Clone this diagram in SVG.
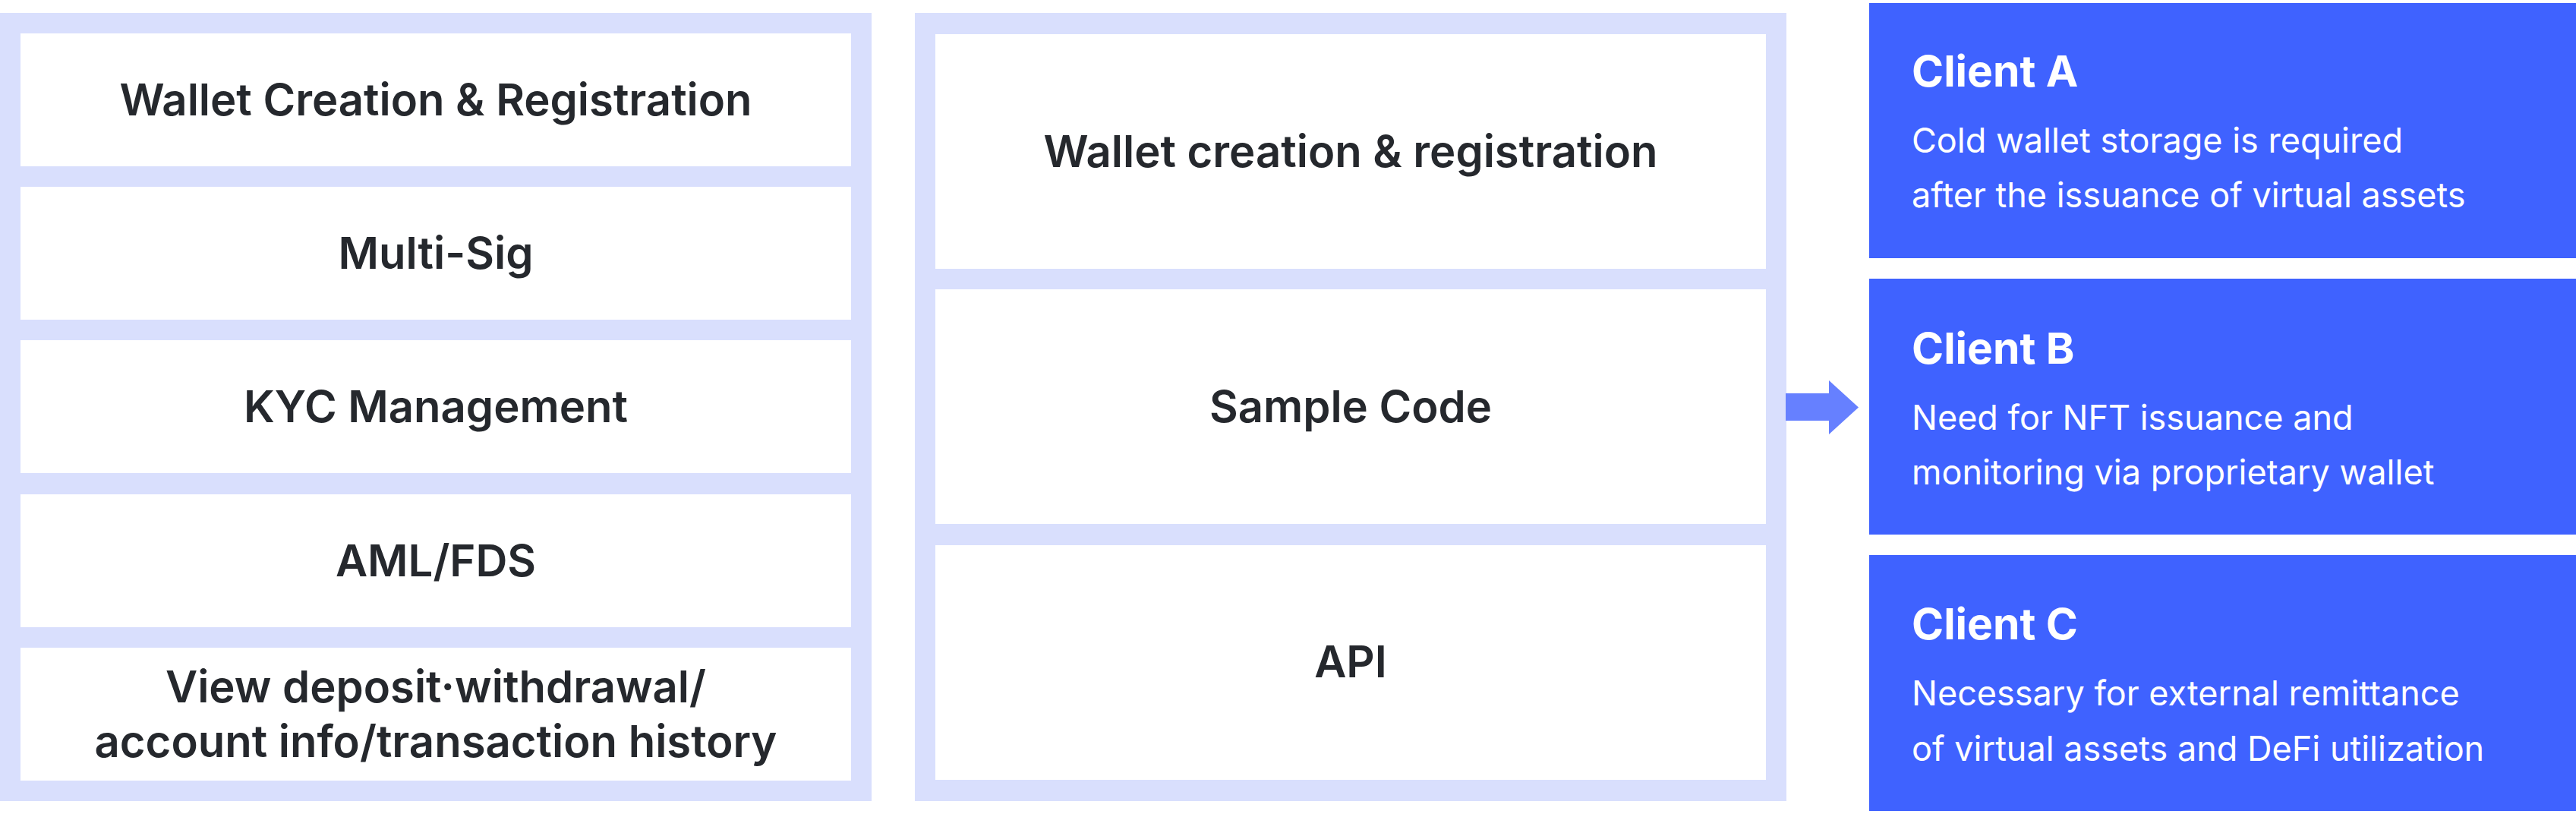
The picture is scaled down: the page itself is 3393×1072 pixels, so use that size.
<svg xmlns="http://www.w3.org/2000/svg" width="3393" height="1072" viewBox="0 0 3393 1072">
  <style>
    .panel { fill: #D9DFFD; }
    .cell { fill: #FFFFFF; }
    .lbl { font-family: Inter, "Noto Sans", "Liberation Sans", sans-serif; font-weight: 600; font-size: 58px; fill: #25282D; text-anchor: middle; }
    .client { fill: #3F62FF; }
    .ctitle { font-family: Inter, "Noto Sans", "Liberation Sans", sans-serif; font-weight: 700; font-size: 57px; fill: #FFFFFF; }
    .cdesc { font-family: Inter, "Noto Sans", "Liberation Sans", sans-serif; font-weight: 400; font-size: 45px; fill: #FFFFFF; }
    .arrow { fill: #6680FF; }
  </style>
  <rect width="3393" height="1072" fill="#FFFFFF"/>

  <g id="left-panel">
    <rect class="panel" x="0" y="17" width="1148" height="1038"/>
    <g id="wallet-creation-registration">
      <rect class="cell" x="27" y="44" width="1094" height="175"/>
      <text class="lbl" x="574" y="152">Wallet Creation &amp; Registration</text>
    </g>
    <g id="multi-sig">
      <rect class="cell" x="27" y="246" width="1094" height="175"/>
      <text class="lbl" x="574" y="354">Multi-Sig</text>
    </g>
    <g id="kyc-management">
      <rect class="cell" x="27" y="448" width="1094" height="175"/>
      <text class="lbl" x="574" y="556">KYC Management</text>
    </g>
    <g id="aml-fds">
      <rect class="cell" x="27" y="651" width="1094" height="175"/>
      <text class="lbl" x="574" y="759">AML/FDS</text>
    </g>
    <g id="view-history">
      <rect class="cell" x="27" y="853" width="1094" height="175"/>
      <text class="lbl" x="574" y="925">View deposit·withdrawal/</text>
      <text class="lbl" x="574" y="997">account info/transaction history</text>
    </g>
  </g>

  <g id="middle-panel">
    <rect class="panel" x="1205" y="17" width="1148" height="1038"/>
    <g id="wallet-creation">
      <rect class="cell" x="1232" y="45" width="1094" height="309"/>
      <text class="lbl" x="1779" y="220">Wallet creation &amp; registration</text>
    </g>
    <g id="sample-code">
      <rect class="cell" x="1232" y="381" width="1094" height="309"/>
      <text class="lbl" x="1779" y="556">Sample Code</text>
    </g>
    <g id="api">
      <rect class="cell" x="1232" y="718" width="1094" height="309"/>
      <text class="lbl" x="1779" y="892">API</text>
    </g>
  </g>

  <g id="connectors">
    <path class="arrow" d="M2352,518 H2409 V501 L2448,536.5 L2409,572 V554 H2352 Z"/>
  </g>

  <g id="client-a">
    <rect class="client" x="2462" y="4" width="931" height="336"/>
    <text class="ctitle" x="2518" y="114">Client A</text>
    <text class="cdesc" x="2518" y="201">Cold wallet storage is required</text>
    <text class="cdesc" x="2518" y="273">after the issuance of virtual assets</text>
  </g>
  <g id="client-b">
    <rect class="client" x="2462" y="367" width="931" height="337"/>
    <text class="ctitle" x="2518" y="479">Client B</text>
    <text class="cdesc" x="2518" y="566">Need for NFT issuance and</text>
    <text class="cdesc" x="2518" y="638">monitoring via proprietary wallet</text>
  </g>
  <g id="client-c">
    <rect class="client" x="2462" y="731" width="931" height="337"/>
    <text class="ctitle" x="2518" y="842">Client C</text>
    <text class="cdesc" x="2518" y="929">Necessary for external remittance</text>
    <text class="cdesc" x="2518" y="1002">of virtual assets and DeFi utilization</text>
  </g>
</svg>
